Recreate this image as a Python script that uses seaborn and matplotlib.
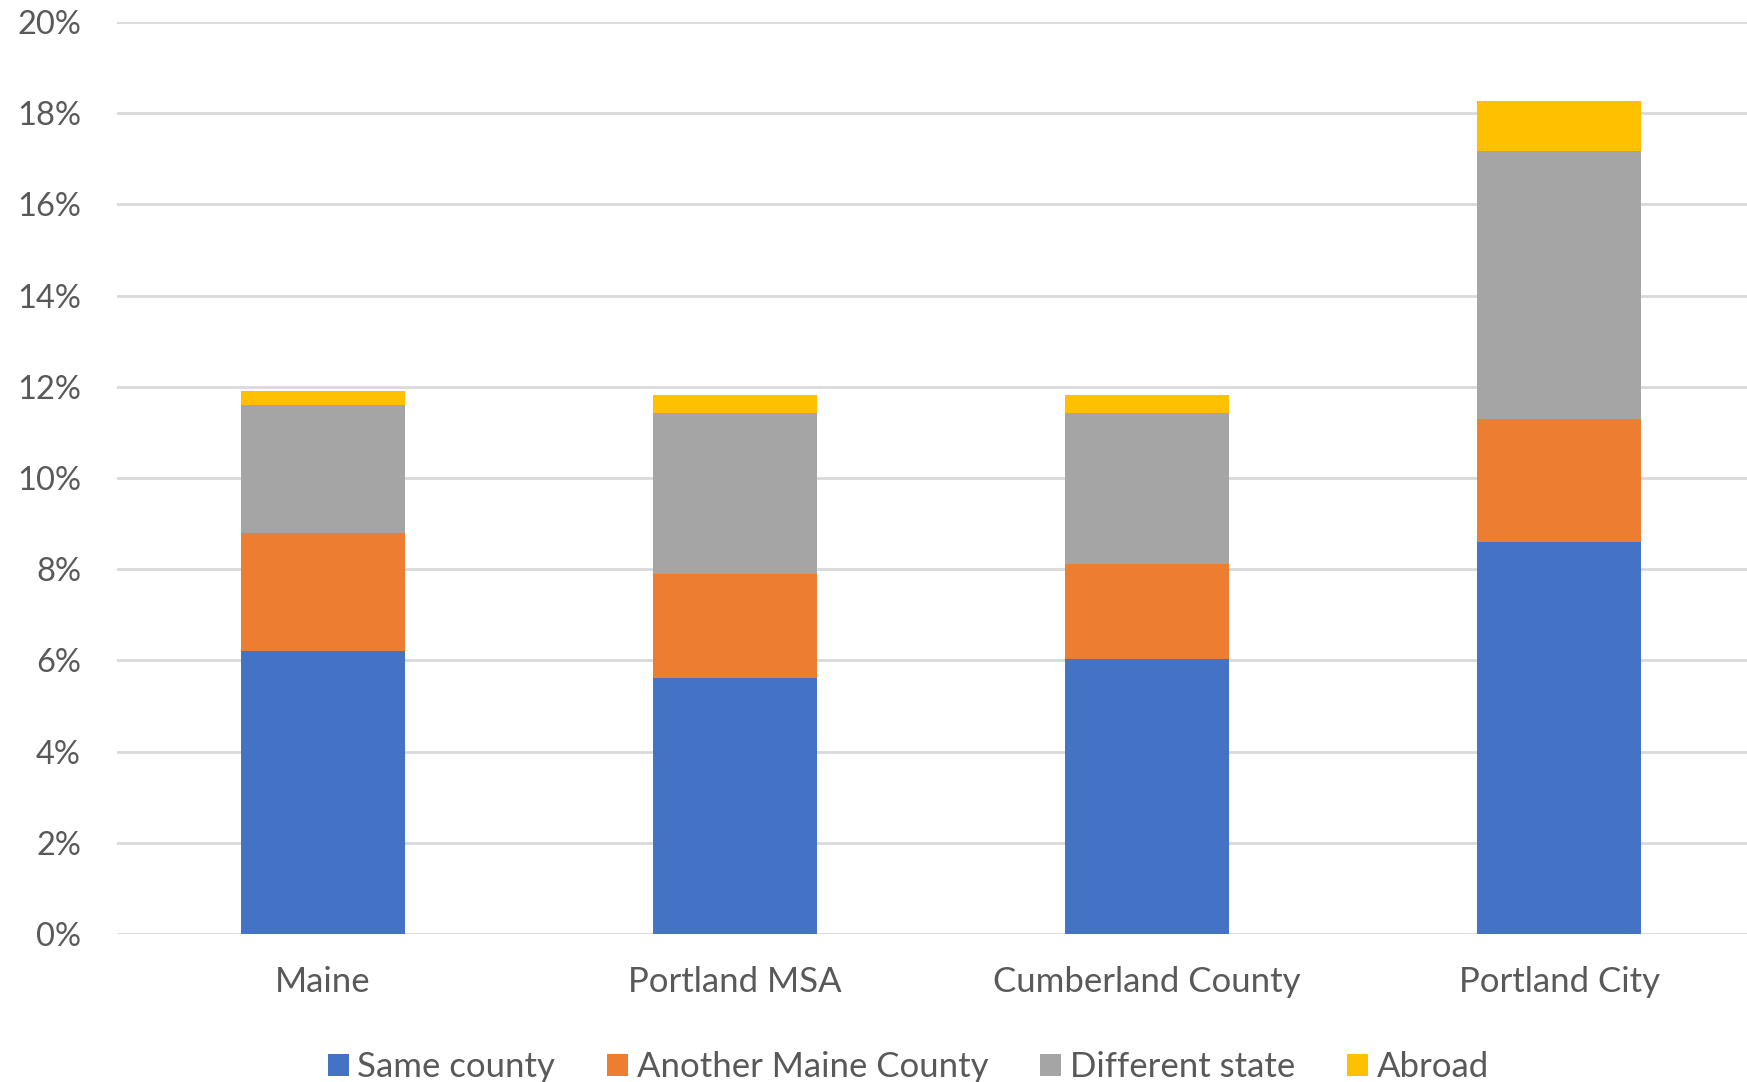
import numpy as np
import pandas as pd
import matplotlib
matplotlib.use("Agg")
import matplotlib.pyplot as plt
import seaborn as sns
from matplotlib.patches import Patch
from matplotlib.ticker import PercentFormatter

# data (percent of population who moved in the past year)
places = ["Maine", "Portland MSA", "Cumberland County", "Portland City"]
same_county = [6.2, 5.62, 6.02, 8.6]
another_maine_county = [2.6, 2.28, 2.10, 2.69]
different_state = [2.8, 3.52, 3.30, 5.89]
abroad = [0.3, 0.39, 0.39, 1.09]

series_names = ["Same county", "Another Maine County", "Different state", "Abroad"]
colors = ["#4472C4", "#ED7D31", "#A5A5A5", "#FFC000"]

df = pd.DataFrame({
    "place": places,
    "Same county": same_county,
    "Another Maine County": another_maine_county,
    "Different state": different_state,
    "Abroad": abroad,
})

# cumulative tops for stacking
cum = df[series_names].cumsum(axis=1)

sns.set_style("white")
plt.rcParams["font.family"] = ["Lato", "DejaVu Sans"]

fig = plt.figure(figsize=(17.47, 10.82), dpi=100)
ax = fig.add_axes([117 / 1747, 148 / 1082, 1 - 117 / 1747, (934 - 22) / 1082])

# draw from the top layer down so each one covers the one beneath
for name, col in reversed(list(zip(series_names, colors))):
    sns.barplot(x=df["place"], y=cum[name], color=col, width=0.4,
                saturation=1, ax=ax, zorder=3, linewidth=0)

ax.set_ylim(0, 20)
ax.set_xlim(-0.5, -0.5 + (1747 - 117) / 412)
ax.yaxis.set_major_locator(plt.MultipleLocator(2))
ax.yaxis.set_major_formatter(PercentFormatter(decimals=0))
ax.grid(axis="y", color="#D9D9D9", linewidth=2, zorder=0)
ax.set_axisbelow(True)
for s in ax.spines.values():
    s.set_visible(False)
ax.set_xlabel("")
ax.set_ylabel("")
ax.tick_params(axis="y", length=0, pad=26, labelsize=23.5, labelcolor="#595959")
ax.tick_params(axis="x", length=0, pad=23, labelsize=25, labelcolor="#595959")

handles = [Patch(facecolor=c, edgecolor="none") for c in colors]
fig.legend(handles, series_names, loc="center", bbox_to_anchor=(0.52, 1 - 1067 / 1082),
           ncol=4, frameon=False, fontsize=25, labelcolor="#595959",
           handlelength=0.6, handleheight=0.6, handletextpad=0.25, columnspacing=1.5)

fig.savefig("out.png", dpi=100)
